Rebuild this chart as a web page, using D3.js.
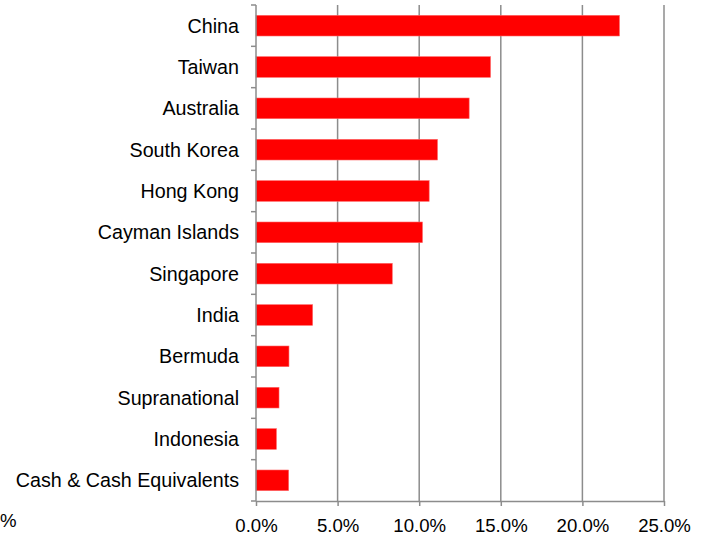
<!DOCTYPE html>
<html>
<head>
<meta charset="utf-8">
<script src="https://cdn.jsdelivr.net/npm/d3@7"></script>
<style>
  body { margin: 0; background: #fff; }
  svg text { font-family: "Liberation Sans", Arial, sans-serif; fill: #000; }
</style>
</head>
<body>
<div id="chart"></div>
<script>
const countries = ['China', 'Taiwan', 'Australia', 'South Korea', 'Hong Kong', 'Cayman Islands',
  'Singapore', 'India', 'Bermuda', 'Supranational', 'Indonesia', 'Cash & Cash Equivalents'];
const weights = [22.27, 14.37, 13.06, 11.12, 10.61, 10.2, 8.35, 3.47, 2.02, 1.41, 1.25, 2.0];
const xTicks = [0, 5, 10, 15, 20, 25];

const width = 707, height = 539;
const margin = { top: 5, right: 43, bottom: 38, left: 256 };

const svg = d3.select('#chart').append('svg')
    .attr('width', width)
    .attr('height', height);

const x = d3.scaleLinear()
    .domain([0, 25])
    .range([margin.left, width - margin.right]);

const y = d3.scaleBand()
    .domain(countries)
    .range([margin.top, height - margin.bottom])
    .paddingInner(0.5)
    .paddingOuter(0.25);

// gridlines
svg.append('g')
  .selectAll('line')
    .data(xTicks.slice(1))
  .enter().append('line')
    .attr('x1', d => x(d)).attr('x2', d => x(d))
    .attr('y1', margin.top).attr('y2', height - margin.bottom)
    .attr('stroke', '#8c8c8c')
    .attr('stroke-width', 1.5);

// bars
svg.append('g')
  .selectAll('rect')
    .data(countries)
  .enter().append('rect')
    .attr('x', x(0))
    .attr('y', d => y(d))
    .attr('width', (d, i) => x(weights[i]) - x(0))
    .attr('height', y.bandwidth())
    .attr('fill', '#ff0000')
    .attr('stroke', '#ff6666')
    .attr('stroke-width', 0.6);

// y axis line and ticks at band boundaries
const yAxis = svg.append('g').attr('stroke', '#8c8c8c').attr('stroke-width', 1.5);
yAxis.append('line')
    .attr('x1', x(0)).attr('x2', x(0))
    .attr('y1', margin.top).attr('y2', height - margin.bottom);
const rowH = (height - margin.top - margin.bottom) / countries.length;
yAxis.selectAll('.ytick')
    .data(d3.range(countries.length + 1))
  .enter().append('line')
    .attr('x1', x(0) - 5).attr('x2', x(0))
    .attr('y1', i => margin.top + i * rowH)
    .attr('y2', i => margin.top + i * rowH);

// category labels
svg.append('g')
  .selectAll('text')
    .data(countries)
  .enter().append('text')
    .attr('x', x(0) - 17)
    .attr('y', d => y(d) + y.bandwidth() / 2)
    .attr('dy', '0.36em')
    .attr('text-anchor', 'end')
    .style('font-size', '19.7px')
    .text(d => d);

// x axis
const xAxis = svg.append('g')
    .attr('transform', `translate(0,${height - margin.bottom})`)
    .call(d3.axisBottom(x).tickValues(xTicks).tickSize(5).tickSizeOuter(0)
      .tickFormat(d => d3.format('.1f')(d) + '%'));
xAxis.select('.domain').attr('stroke', '#8c8c8c').attr('stroke-width', 1.5);
xAxis.selectAll('.tick line').attr('stroke', '#8c8c8c').attr('stroke-width', 1.5);
xAxis.selectAll('.tick text')
    .attr('y', 31)
    .attr('dy', 0)
    .style('font-size', '18.6px')
    .style('font-family', '"Liberation Sans", Arial, sans-serif');

svg.append('text')
    .attr('x', 0)
    .attr('y', 527)
    .style('font-size', '18.6px')
    .text('%');
</script>
</body>
</html>
